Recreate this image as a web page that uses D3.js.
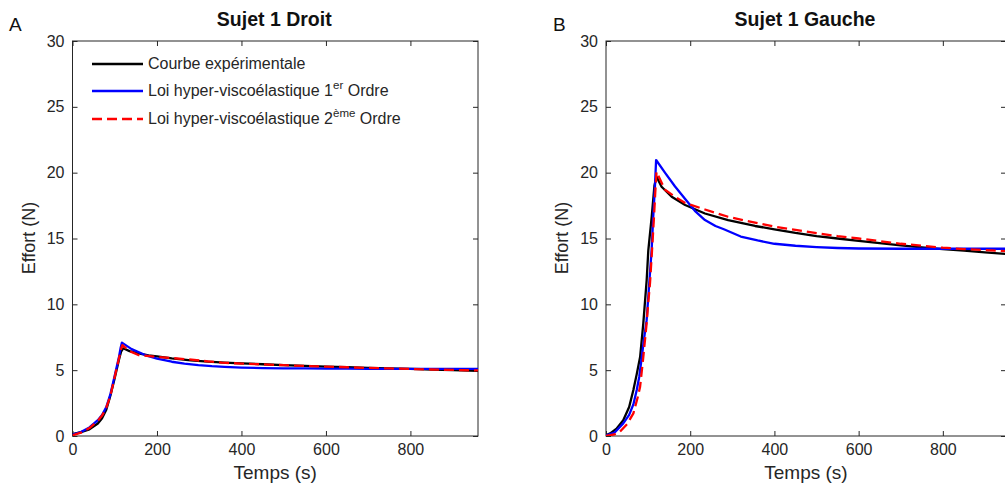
<!DOCTYPE html>
<html><head><meta charset="utf-8">
<script src="https://cdn.jsdelivr.net/npm/d3@7"></script>
<style>
body{margin:0;background:#fff;}
svg{display:block;font-family:"Liberation Sans",Arial,sans-serif;}
</style></head>
<body><svg id="c" width="1005" height="489"></svg>
<script>
// ---------- DATA ----------
const yTicks = [0, 5, 10, 15, 20, 25, 30];
const xTicks = [0, 200, 400, 600, 800];
const seriesNames = ["Courbe expérimentale", "Loi hyper-viscoélastique 1", "Loi hyper-viscoélastique 2"];

// Panel A : Sujet 1 Droit
const tA_exp = [0,20,40,60,70,80,90,100,105,110,115,120,135,156,180,200,235,280,320,360,400,450,500,550,600,650,700,750,800,850,900,960];
const vA_exp = [0.15,0.3,0.5,0.95,1.35,2.0,3.1,4.4,5.1,5.8,6.4,6.66,6.45,6.28,6.12,6.05,5.9,5.75,5.65,5.58,5.52,5.45,5.38,5.32,5.27,5.22,5.17,5.13,5.1,5.05,5.0,4.95];
const tA_o1 = [0,20,40,60,70,80,90,100,105,110,114,117,140,172,200,235,265,298,330,360,400,450,500,550,600,650,700,800,900,960];
const vA_o1 = [0.1,0.3,0.65,1.2,1.6,2.2,3.2,4.6,5.3,6.0,6.7,7.09,6.6,6.15,5.88,5.64,5.5,5.38,5.3,5.25,5.2,5.16,5.14,5.13,5.12,5.11,5.1,5.1,5.1,5.1];
const tA_o2 = [0,20,40,60,70,80,90,100,105,110,114,118,135,156,195,235,274,320,353,400,450,500,550,600,650,700,750,800,850,900,960];
const vA_o2 = [0.05,0.25,0.6,1.15,1.55,2.15,3.1,4.5,5.2,5.9,6.5,6.9,6.45,6.15,6.02,5.92,5.82,5.67,5.57,5.5,5.44,5.38,5.32,5.27,5.22,5.17,5.13,5.09,5.05,5.02,4.98];

// Panel B : Sujet 1 Gauche
const tB_exp = [0,10,25,41,55,65,73,81,88.6,96.6,100.5,108.5,115,120,132,156,188,235,290,354,400,450,500,550,600,650,700,750,800,850,900,950];
const vB_exp = [0.05,0.2,0.55,1.2,2.2,3.5,4.7,6.0,8.55,11.85,14.1,16.65,19.0,19.7,18.93,18.17,17.54,16.9,16.4,15.95,15.7,15.42,15.18,15.0,14.82,14.65,14.47,14.32,14.2,14.08,13.95,13.82];
const tB_o1 = [0,20,41,55,65,73,79,85,90,96.5,102.7,108.3,112.2,116,119,140,164,188,211,235,260,280,320,360,400,450,500,550,600,700,800,950];
const vB_o1 = [0.05,0.25,0.96,1.6,2.4,3.5,4.5,6.0,7.3,8.8,11.6,14.1,16.65,18.8,20.96,20.0,18.95,18.0,17.1,16.4,15.95,15.7,15.15,14.85,14.6,14.45,14.35,14.28,14.24,14.22,14.22,14.22];
const tB_o2 = [0,20,33,50,65,75,81,88.6,96.6,100,104.5,109.3,114,117,120,140,164,188,235,290,354,400,450,500,550,600,650,700,750,800,850,900,950];
const vB_o2 = [0.0,0.12,0.33,0.9,1.72,2.9,3.75,6.0,8.6,10.0,11.6,14.1,16.65,18.5,20.07,18.7,18.17,17.7,17.2,16.65,16.2,15.9,15.65,15.4,15.18,15.0,14.8,14.6,14.45,14.3,14.2,14.12,14.04];

// ---------- DRAW ----------
const svg = d3.select("#c");
const colors = ["#000000", "#0000ff", "#ff0000"];
const dashes = [null, null, "10,5"];

function panel(cfg){
  const g = svg.append("g");
  const x = d3.scaleLinear().domain([0, cfg.xmax]).range([cfg.left, cfg.right]);
  const y = d3.scaleLinear().domain([0, 30]).range([436, 41]);
  const clipId = "clip" + cfg.id;
  svg.append("clipPath").attr("id", clipId).append("rect")
    .attr("x", cfg.left).attr("y", 41).attr("width", cfg.right - cfg.left).attr("height", 395);

  g.append("rect").attr("x", cfg.left).attr("y", 41).attr("width", cfg.right - cfg.left).attr("height", 395)
    .attr("fill", "none").attr("stroke", "#262626").attr("stroke-width", 1);

  const axB = d3.axisBottom(x).tickValues(xTicks).tickSizeInner(-5).tickSizeOuter(0).tickPadding(8);
  const axT = d3.axisTop(x).tickValues(xTicks).tickSizeInner(-5).tickSizeOuter(0).tickFormat("");
  const axL = d3.axisLeft(y).tickValues(yTicks).tickSizeInner(-5).tickSizeOuter(0).tickPadding(8);
  const axR = d3.axisRight(y).tickValues(yTicks).tickSizeInner(-5).tickSizeOuter(0).tickFormat("");
  [[axB, `translate(0,436)`], [axT, `translate(0,41)`], [axL, `translate(${cfg.left},0)`], [axR, `translate(${cfg.right},0)`]]
    .forEach(([ax, tr]) => {
      const a = g.append("g").attr("transform", tr).call(ax);
      a.select(".domain").remove();
      a.selectAll("line").attr("stroke", "#262626");
      a.selectAll("text").attr("font-size", 16).attr("fill", "#262626")
        .attr("font-family", "'Liberation Sans',Arial,sans-serif");
    });

  const line = d3.line().x(d => x(d[0])).y(d => y(d[1]));
  cfg.series.forEach((s, i) => {
    const pts = s.t.map((t, k) => [t, s.v[k]]);
    g.append("path").attr("d", line(pts)).attr("clip-path", `url(#${clipId})`)
      .attr("fill", "none").attr("stroke", colors[i]).attr("stroke-width", 2.3)
      .attr("stroke-dasharray", dashes[i]).attr("stroke-linejoin", "round");
  });

  g.append("text").attr("x", (cfg.left + cfg.right) / 2 - 1).attr("y", 26).attr("text-anchor", "middle")
    .attr("font-size", 19.5).attr("font-weight", "bold").attr("fill", "#111").text(cfg.title);
  g.append("text").attr("x", cfg.letterX).attr("y", 31).attr("font-size", 19).attr("fill", "#111").text(cfg.letter);
  g.append("text").attr("x", (cfg.left + cfg.right) / 2).attr("y", 479).attr("text-anchor", "middle")
    .attr("font-size", 19).attr("fill", "#262626").text("Temps (s)");
  g.append("text").attr("transform", `translate(${cfg.left - 38},238) rotate(-90)`).attr("text-anchor", "middle")
    .attr("font-size", 18).attr("fill", "#262626").text("Effort (N)");
  return {x, y, g};
}

panel({id: "A", left: 72.5, right: 478, xmax: 960, title: "Sujet 1 Droit", letter: "A", letterX: 9,
  series: [{t: tA_exp, v: vA_exp}, {t: tA_o1, v: vA_o1}, {t: tA_o2, v: vA_o2}]});
panel({id: "B", left: 606, right: 1006, xmax: 950, title: "Sujet 1 Gauche", letter: "B", letterX: 553,
  series: [{t: tB_exp, v: vB_exp}, {t: tB_o1, v: vB_o1}, {t: tB_o2, v: vB_o2}]});

// legend (panel A)
const sups = ["", "er", "ème"];
const suffix = ["", " Ordre", " Ordre"];
const legY = [64, 91, 119];
const leg = svg.append("g");
seriesNames.forEach((name, i) => {
  leg.append("line").attr("x1", 92).attr("x2", 143).attr("y1", legY[i]).attr("y2", legY[i])
    .attr("stroke", colors[i]).attr("stroke-width", 2.3).attr("stroke-dasharray", dashes[i]);
  const t = leg.append("text").attr("x", 148).attr("y", legY[i] + 5).attr("font-size", 16).attr("fill", "#262626");
  t.append("tspan").text(name);
  if (sups[i]) {
    t.append("tspan").attr("dy", -7).attr("font-size", 11.5).text(sups[i]);
    t.append("tspan").attr("dy", 7).text(suffix[i]);
  }
});
</script></body></html>
